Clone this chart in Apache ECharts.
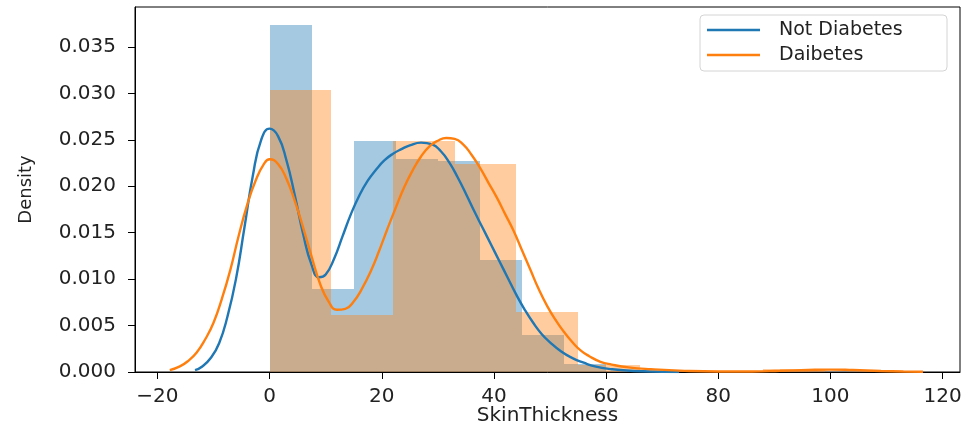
<!DOCTYPE html>
<html>
<head>
<meta charset="utf-8">
<script src="https://cdn.jsdelivr.net/npm/echarts@6/dist/echarts.min.js"></script>
<style>
html, body { margin: 0; padding: 0; background: #fff; }
#skin_chart { width: 966px; height: 428px; }
</style>
</head>
<body>
<div id="skin_chart"></div>
<script>
// histogram bins (density)
const notBinEdges = [0, 7.5, 15, 22.5, 30, 37.5, 45, 52.5, 60];
const notBinHeights = [0.0374, 0.0089, 0.0249, 0.0229, 0.0227, 0.0121, 0.0040, 0.0009];
const diaBinEdges = [0, 11, 22, 33, 44, 55, 66, 77, 88, 99];
const diaBinHeights = [0.0304, 0.0061, 0.0249, 0.0224, 0.0065, 0.0007, 0, 0, 0.00034];

// kde curves
const notKdeX = [-13.3, -12, -10.5, -9, -7.5, -6, -4.5, -3, -1.5, 0, 1.5, 3, 4.5, 6, 7.5, 8.8, 10, 11.5, 13, 14.5, 16, 17.5, 19, 20.5, 22, 23.5, 25, 27, 29, 30.5, 32, 33.5, 35, 36.5, 38, 39.5, 41, 42.5, 44, 45.5, 47, 48.5, 50, 52, 54, 56, 58, 61, 65, 70, 73];
const notKdeY = [0.0002, 0.0006, 0.0015, 0.0031, 0.0060, 0.0100, 0.0155, 0.0211, 0.0250, 0.0262, 0.0254, 0.0228, 0.0190, 0.0148, 0.0115, 0.0102, 0.0105, 0.0122, 0.0146, 0.0170, 0.0190, 0.0206, 0.0218, 0.0228, 0.0235, 0.0240, 0.0244, 0.0247, 0.0245, 0.0238, 0.0226, 0.0210, 0.0192, 0.0173, 0.0155, 0.0137, 0.0119, 0.0101, 0.0083, 0.0067, 0.0053, 0.0041, 0.0032, 0.0022, 0.0015, 0.0010, 0.0006, 0.0003, 0.0001, 0.00003, 0];
const diaKdeX = [-17.8, -16, -14.5, -13, -11.5, -10, -8.5, -7, -5.5, -4, -2.5, -1, 0, 1.5, 3, 4.5, 6, 7.5, 9, 10.5, 12, 13.5, 15, 16.5, 18, 19.5, 21, 22.5, 24, 25.5, 27, 28.5, 30, 31.5, 33, 34.5, 36, 37.5, 39, 40.5, 42, 43.5, 45, 46.5, 48, 49.5, 51, 52.5, 54, 55.5, 57, 59, 61, 64, 68, 74, 80, 86, 91, 96, 100, 104, 109, 113, 116.5];
const diaKdeY = [0.0002, 0.0006, 0.0012, 0.0021, 0.0035, 0.0053, 0.0079, 0.0110, 0.0147, 0.0180, 0.0206, 0.0224, 0.0229, 0.0224, 0.0208, 0.0184, 0.0155, 0.0124, 0.0095, 0.0076, 0.0067, 0.0068, 0.0076, 0.0090, 0.0108, 0.0130, 0.0154, 0.0177, 0.0199, 0.0217, 0.0232, 0.0243, 0.0249, 0.0252, 0.0251, 0.0245, 0.0234, 0.0220, 0.0204, 0.0188, 0.0170, 0.0152, 0.0131, 0.0110, 0.0089, 0.0071, 0.0056, 0.0043, 0.0032, 0.0023, 0.0017, 0.0011, 0.0008, 0.0005, 0.0003, 0.00012, 0.00005, 0.00006, 0.00013, 0.00022, 0.00026, 0.00021, 0.00011, 0.00005, 0.00002];

const xTicks = [-20, 0, 20, 40, 60, 80, 100, 120];
const yTicks = [0, 0.005, 0.01, 0.015, 0.02, 0.025, 0.03, 0.035];

const BLUE = "#1f77b4";
const ORANGE = "#ff7f0e";
const FONT = "DejaVu Sans";

function binData(edges, heights) {
    let tmp = [];
    heights.forEach((h, i) => {
        tmp.push([edges[i], edges[i + 1], h]);
    });
    return tmp;
}

function pairs(xs, ys) {
    return xs.map((x, i) => [x, ys[i]]);
}

function histRenderer(fill) {
    return function(params, api) {
        let p0 = api.coord([api.value(0), api.value(2)]);
        let p1 = api.coord([api.value(1), 0]);
        // snap to whole pixels so neighbouring bins don't leave seams
        let x0 = Math.round(p0[0]), x1 = Math.round(p1[0]);
        let y0 = Math.round(p0[1]), y1 = Math.round(p1[1]);
        return {
            type: "rect",
            shape: { x: x0, y: y0, width: x1 - x0, height: y1 - y0 },
            style: { fill: fill }
        };
    };
}

let chart = echarts.init(document.getElementById("skin_chart"));
chart.setOption({
    animation: false,
    grid: {
        left: 135,
        right: 6,
        top: 7,
        bottom: 56,
        containLabel: false,
        outerBoundsMode: "none",
        show: true,
        borderColor: "#000",
        borderWidth: 1
    },
    legend: {
        left: 700,
        top: 15,
        orient: "vertical",
        data: ["Not Diabetes", "Daibetes"],
        icon: "rect",
        itemWidth: 53,
        itemHeight: 2.5,
        itemGap: 3,
        padding: [4, 8, 5, 7],
        backgroundColor: "rgba(255,255,255,0.8)",
        borderColor: "#d4d4d4",
        borderWidth: 1,
        borderRadius: 4,
        textStyle: {
            fontFamily: FONT,
            fontSize: 19,
            color: "#222",
            lineHeight: 22,
            width: 160,
            padding: [0, 0, 0, 14]
        }
    },
    xAxis: {
        type: "value",
        min: -24,
        max: 123.1,
        name: "SkinThickness",
        nameLocation: "middle",
        nameGap: 34,
        nameMoveOverlap: false,
        nameTextStyle: { fontFamily: FONT, fontSize: 20, color: "#222" },
        axisLine: { show: true, onZero: false, lineStyle: { color: "#000", width: 1 } },
        axisTick: { show: true, length: 7, lineStyle: { color: "#000" }, customValues: xTicks },
        axisLabel: {
            fontFamily: FONT,
            fontSize: 20,
            color: "#222",
            margin: 15,
            customValues: xTicks,
            formatter: v => String(v).replace("-", "\u2212")
        },
        splitLine: { show: false }
    },
    yAxis: {
        type: "value",
        min: 0,
        max: 0.0393,
        name: "Density",
        nameLocation: "middle",
        nameRotate: 90,
        nameGap: 100,
        nameMoveOverlap: false,
        nameTextStyle: { fontFamily: FONT, fontSize: 18, color: "#222" },
        axisLine: { show: true, onZero: false, lineStyle: { color: "#000", width: 1 } },
        axisTick: { show: true, length: 7, lineStyle: { color: "#000" }, customValues: yTicks },
        axisLabel: {
            fontFamily: FONT,
            fontSize: 20,
            color: "#222",
            margin: 19,
            customValues: yTicks,
            formatter: v => v.toFixed(3)
        },
        splitLine: { show: false }
    },
    series: [
        {
            name: "Not Diabetes hist",
            type: "custom",
            renderItem: histRenderer("rgba(31,119,180,0.4)"),
            encode: { x: [0, 1], y: 2 },
            data: binData(notBinEdges, notBinHeights),
            silent: true,
            z: 1
        },
        {
            name: "Daibetes hist",
            type: "custom",
            renderItem: histRenderer("rgba(255,127,14,0.4)"),
            encode: { x: [0, 1], y: 2 },
            data: binData(diaBinEdges, diaBinHeights),
            silent: true,
            z: 2
        },
        {
            name: "Not Diabetes",
            type: "line",
            data: pairs(notKdeX, notKdeY),
            smooth: true,
            showSymbol: false,
            color: BLUE,
            lineStyle: { color: BLUE, width: 2.4 },
            z: 3
        },
        {
            name: "Daibetes",
            type: "line",
            data: pairs(diaKdeX, diaKdeY),
            smooth: true,
            showSymbol: false,
            color: ORANGE,
            lineStyle: { color: ORANGE, width: 2.4 },
            z: 4
        }
    ]
});
</script>
</body>
</html>
